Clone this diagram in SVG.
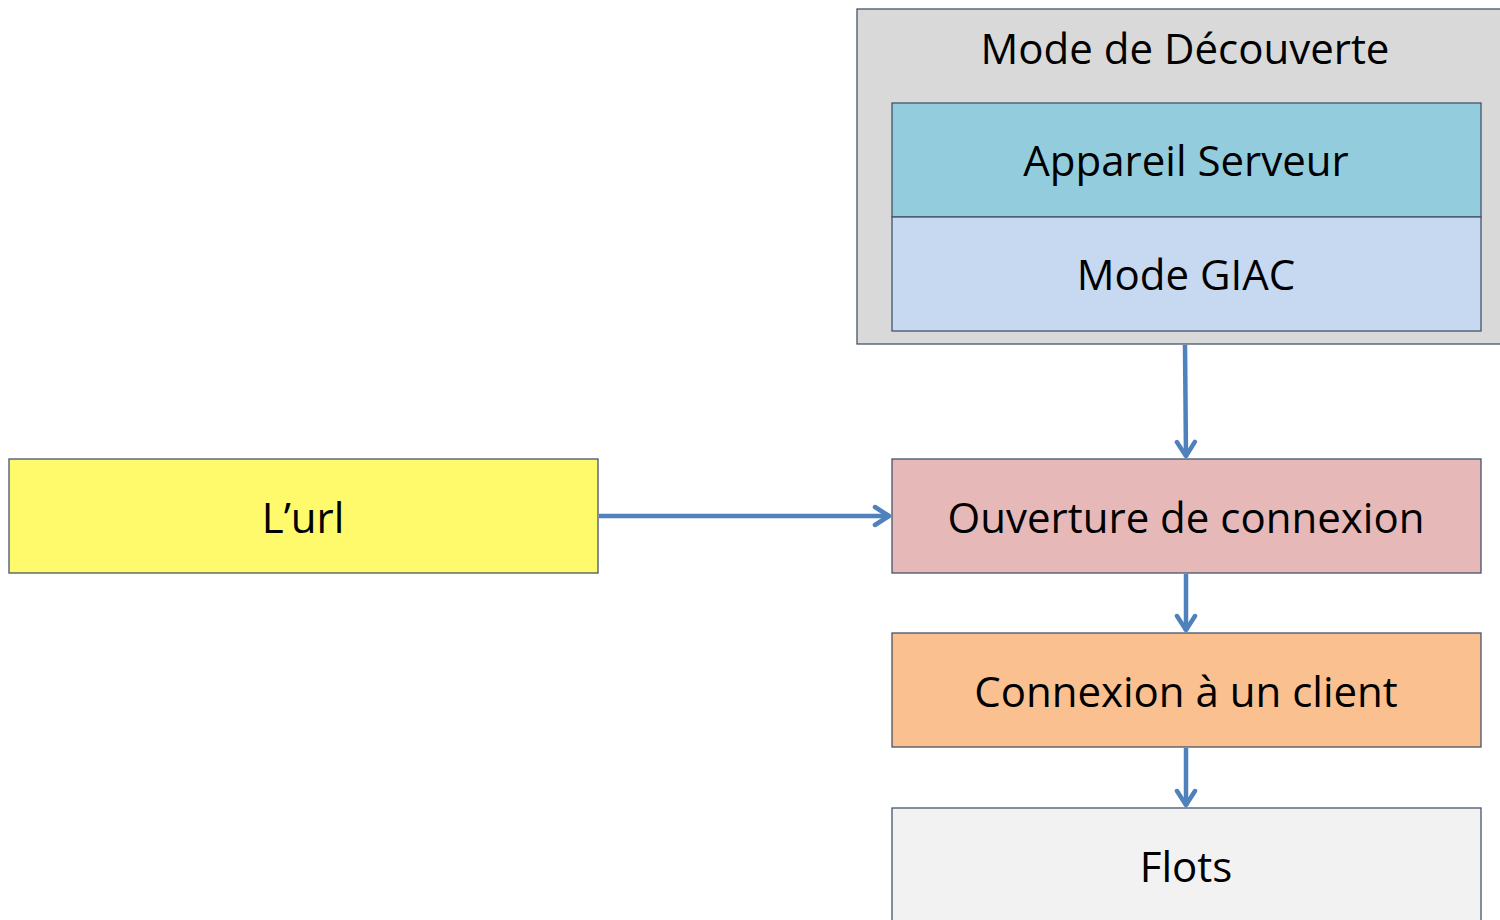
<svg xmlns="http://www.w3.org/2000/svg" width="1500" height="920" viewBox="0 0 1500 920">
<defs>
<style>
.box{stroke:#44546a;stroke-width:1.3}
.lbl{font-family:"Open Sans","Noto Sans",sans-serif;font-size:42px;fill:#000;text-anchor:middle}
.conn{stroke:#4f81bd;stroke-width:4.5;fill:none}
</style>
<marker id="arr" markerUnits="userSpaceOnUse" viewBox="0 0 20 24" refX="18" refY="12" markerWidth="20" markerHeight="24" orient="auto">
<path d="M3,3 L17,12 L3,21" fill="none" stroke="#4f81bd" stroke-width="4.5" stroke-linecap="round" stroke-linejoin="round"/>
</marker>
</defs>
<rect width="1500" height="920" fill="#fff"/>
<g id="mode-decouverte">
<rect class="box" x="857" y="9" width="660" height="335" fill="#d9d9d9"/>
<text class="lbl" x="1185" y="64">Mode de Découverte</text>
</g>
<g id="appareil-serveur">
<rect class="box" x="892" y="103" width="589" height="114" fill="#93cddd"/>
<text class="lbl" x="1186" y="176">Appareil Serveur</text>
</g>
<g id="mode-giac">
<rect class="box" x="892" y="217" width="589" height="114" fill="#c6d9f0"/>
<text class="lbl" x="1186" y="290">Mode GIAC</text>
</g>
<g id="url">
<rect class="box" x="9" y="459" width="589" height="114" fill="#fffa6b"/>
<text class="lbl" x="303" y="533">L’url</text>
</g>
<g id="ouverture">
<rect class="box" x="892" y="459" width="589" height="114" fill="#e6b9b8"/>
<text class="lbl" x="1186" y="533">Ouverture de connexion</text>
</g>
<g id="connexion">
<rect class="box" x="892" y="633" width="589" height="114" fill="#fac090"/>
<text class="lbl" x="1186" y="707">Connexion à un client</text>
</g>
<g id="flots">
<rect class="box" x="892" y="808" width="589" height="130" fill="#f2f2f2"/>
<text class="lbl" x="1186" y="882">Flots</text>
</g>
<g id="connectors">
<path class="conn" d="M1185,345 L1186,457" marker-end="url(#arr)"/>
<path class="conn" d="M599,516 L890,516" marker-end="url(#arr)"/>
<path class="conn" d="M1186,574 L1186,631" marker-end="url(#arr)"/>
<path class="conn" d="M1186,748 L1186,806" marker-end="url(#arr)"/>
</g>
</svg>
